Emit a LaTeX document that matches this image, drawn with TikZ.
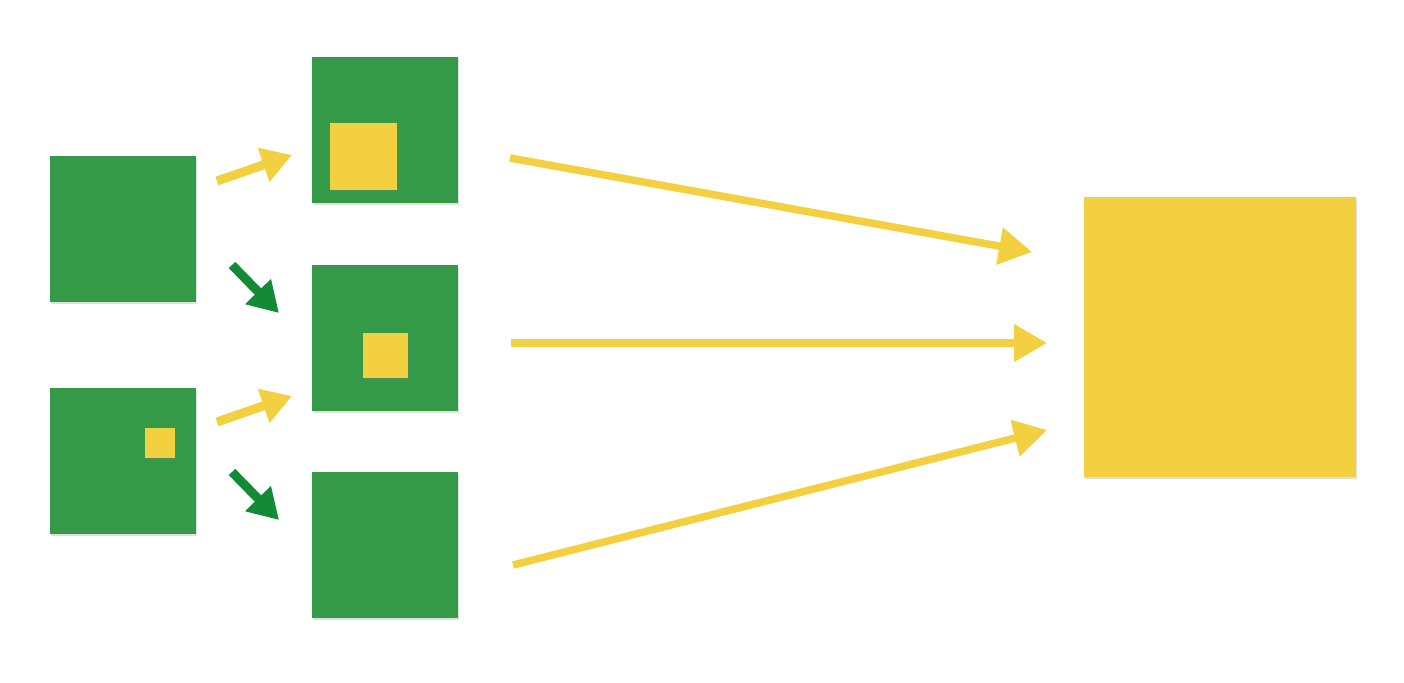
\documentclass[tikz,border=0pt]{standalone}
\usetikzlibrary{arrows.meta,calc,shadows}
\definecolor{feltgreen}{HTML}{359A48}
\definecolor{feltyellow}{HTML}{F2D03F}
\definecolor{darkarrow}{HTML}{138A36}
\tikzset{
  sq/.style={minimum size=#1, inner sep=0pt, outer sep=0pt, anchor=north west,
    drop shadow={shadow xshift=1pt, shadow yshift=-1.5pt, opacity=0.25}},
  gsq/.style={sq=#1, fill=feltgreen},
  ysq/.style={sq=#1, fill=feltyellow},
  smallarr/.style={feltyellow, line width=9pt, -{Triangle[length=30pt, width=34pt]}},
  greenarr/.style={darkarrow, line width=9pt, -{Triangle[length=30pt, width=34pt]}},
  bigarr/.style={feltyellow, line width=7.5pt, -{Triangle[length=33pt, width=36pt]}},
}
\begin{document}
\begin{tikzpicture}[x=1pt, y=-1pt]
\useasboundingbox (0,0) rectangle (1404,682);
% left squares
\node[gsq=146pt] (L1) at (50,156) {};
\node[gsq=146pt] (L2) at (50,388) {};
\node[ysq=30pt] (l2in) at (145,428) {};
% middle squares
\node[gsq=146pt] (M1) at (312,57) {};
\node[ysq=67pt] (m1in) at (330,123) {};
\node[gsq=146pt] (M2) at (312,265) {};
\node[ysq=45pt] (m2in) at (363,333) {};
\node[gsq=146pt] (M3) at (312,472) {};
% big yellow
\node[sq=1pt, fill=feltyellow, minimum width=272pt, minimum height=280pt] (Y) at (1084,197) {};
% small arrows
\draw[smallarr] ($(L1.north east)+(21,25)$) -- ($(M1.west)+(-20,25)$);
\draw[greenarr] ($(L1.south east)+(36,-37)$) -- ($(M2.north west)+(-33,48)$);
\draw[smallarr] ($(L2.north east)+(21,34)$) -- ($(M2.west)+(-20,58)$);
\draw[greenarr] ($(L2.south east)+(36,-62)$) -- ($(M3.north west)+(-33,48)$);
% big arrows
\draw[bigarr] ($(M1.east)+(52,28)$) -- ($(Y.west)+(-52,-85)$);
\draw[bigarr] ($(M2.east)+(53,5)$) -- ($(Y.west)+(-37,6)$);
\draw[bigarr] ($(M3.east)+(55,20)$) -- ($(Y.west)+(-37,93)$);
\end{tikzpicture}
\end{document}
